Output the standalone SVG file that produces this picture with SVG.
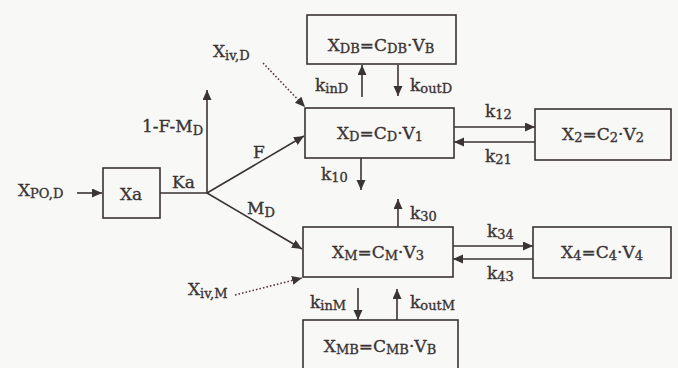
<svg xmlns="http://www.w3.org/2000/svg" width="678" height="368" viewBox="0 0 678 368">
<defs>
<marker id="ah" markerUnits="userSpaceOnUse" markerWidth="12" markerHeight="10" refX="10" refY="4.5" orient="auto">
<path d="M0,0 L10,4.5 L0,9 Z" fill="#3a3434"/>
</marker>
<style>
text{font-family:"DejaVu Serif","Liberation Serif",serif;font-size:17px;fill:#3a3434;stroke:#3a3434;stroke-width:0.35}
.s{font-size:13px}
.box{fill:none;stroke:#3a3434;stroke-width:1.6}
.ln{fill:none;stroke:#3a3434;stroke-width:1.6}
.ar{fill:none;stroke:#3a3434;stroke-width:1.6;marker-end:url(#ah)}
.dt{fill:none;stroke:#5a3a44;stroke-width:1.6;stroke-dasharray:1.6 2;marker-end:url(#ah)}
.m{text-anchor:middle}
</style>
</defs>
<rect width="678" height="368" fill="#f8f8f6"/>

<g id="connectors">
<path class="ar" d="M77,193 H102"/>
<path class="ln" d="M160,193 H207"/>
<path class="ar" d="M207,193 V90"/>
<path class="ar" d="M207,193 L304,136"/>
<path class="ar" d="M207,193 L302,249"/>
<path class="dt" d="M263,63 L305,107"/>
<path class="dt" d="M235,295 L302,278"/>
<path class="ar" d="M362,97 V65"/>
<path class="ar" d="M398,65 V96"/>
<path class="ar" d="M454,127 H535"/>
<path class="ar" d="M535,142 H454"/>
<path class="ar" d="M361,158 V190"/>
<path class="ar" d="M398,227 V199"/>
<path class="ar" d="M453,246 H533"/>
<path class="ar" d="M533,259 H453"/>
<path class="ar" d="M358,288 V320"/>
<path class="ar" d="M397,320 V289"/>
</g>

<g id="labels">
<text x="18" y="196">X<tspan class="s" dy="2">PO,D</tspan></text>
<text x="172" y="188">Ka</text>
<text x="142" y="132">1-F-M<tspan class="s" dy="3">D</tspan></text>
<text x="253" y="158">F</text>
<text x="247" y="214">M<tspan class="s" dy="3">D</tspan></text>
<text x="213" y="57">X<tspan class="s" dy="3">iv,D</tspan></text>
<text x="188" y="295">X<tspan class="s" dy="3">iv,M</tspan></text>
<text x="315" y="91">k<tspan class="s" dy="2">inD</tspan></text>
<text x="410" y="91">k<tspan class="s" dy="2">outD</tspan></text>
<text x="485" y="117">k<tspan class="s" dy="2">12</tspan></text>
<text x="485" y="162">k<tspan class="s" dy="2">21</tspan></text>
<text x="321" y="180">k<tspan class="s" dy="2">10</tspan></text>
<text x="410" y="219">k<tspan class="s" dy="2">30</tspan></text>
<text x="487" y="237">k<tspan class="s" dy="2">34</tspan></text>
<text x="487" y="279">k<tspan class="s" dy="2">43</tspan></text>
<text x="310" y="308">k<tspan class="s" dy="2">inM</tspan></text>
<text x="410" y="308">k<tspan class="s" dy="2">outM</tspan></text>
</g>

<g id="Xa">
<rect class="box" x="103" y="168" width="57" height="50"/>
<text class="m" x="131" y="200">Xa</text>
</g>
<g id="XDB">
<rect class="box" x="307" y="15" width="149" height="49"/>
<text class="m" x="381" y="51">X<tspan class="s" dy="2">DB</tspan><tspan dy="-2">=C</tspan><tspan class="s" dy="2">DB</tspan><tspan dy="-2">·V</tspan><tspan class="s" dy="2">B</tspan></text>
</g>
<g id="XD">
<rect class="box" x="305" y="108" width="149" height="50"/>
<text class="m" x="380" y="139">X<tspan class="s" dy="2">D</tspan><tspan dy="-2">=C</tspan><tspan class="s" dy="2">D</tspan><tspan dy="-2">·V</tspan><tspan class="s" dy="2">1</tspan></text>
</g>
<g id="X2">
<rect class="box" x="535" y="109" width="136" height="51"/>
<text class="m" x="603" y="140">X<tspan class="s" dy="2">2</tspan><tspan dy="-2">=C</tspan><tspan class="s" dy="2">2</tspan><tspan dy="-2">·V</tspan><tspan class="s" dy="2">2</tspan></text>
</g>
<g id="XM">
<rect class="box" x="303" y="227" width="150" height="50"/>
<text class="m" x="378" y="258">X<tspan class="s" dy="2">M</tspan><tspan dy="-2">=C</tspan><tspan class="s" dy="2">M</tspan><tspan dy="-2">·V</tspan><tspan class="s" dy="2">3</tspan></text>
</g>
<g id="X4">
<rect class="box" x="533" y="227" width="138" height="51"/>
<text class="m" x="602" y="258">X<tspan class="s" dy="2">4</tspan><tspan dy="-2">=C</tspan><tspan class="s" dy="2">4</tspan><tspan dy="-2">·V</tspan><tspan class="s" dy="2">4</tspan></text>
</g>
<g id="XMB">
<rect class="box" x="303" y="320" width="155" height="50"/>
<text class="m" x="380" y="352">X<tspan class="s" dy="2">MB</tspan><tspan dy="-2">=C</tspan><tspan class="s" dy="2">MB</tspan><tspan dy="-2">·V</tspan><tspan class="s" dy="2">B</tspan></text>
</g>
</svg>
